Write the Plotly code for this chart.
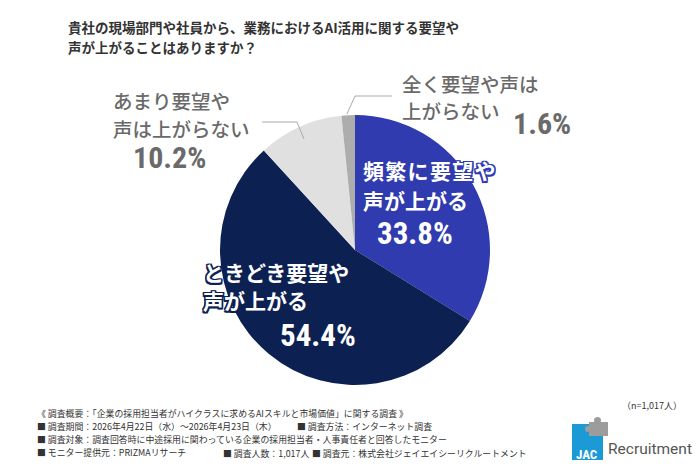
import plotly.graph_objects as go

# ---- data ------------------------------------------------------------------
answers = ["頻繁に要望や声が上がる", "ときどき要望や声が上がる",
           "あまり要望や声は上がらない", "全く要望や声は上がらない"]
shares = [33.8, 54.4, 10.2, 1.6]
slice_colors = ["#2F3BAE", "#0C2152", "#E0E0E0", "#ADADAD"]
label_lines = [["頻繁に要望や", "声が上がる"],
               ["ときどき要望や", "声が上がる"],
               ["あまり要望や", "声は上がらない"],
               ["全く要望や声は", "上がらない"]]

TITLE_LINES = ["貴社の現場部門や社員から、業務におけるAI活用に関する要望や",
               "声が上がることはありますか？"]
NOTE_LINES = [
    "《 調査概要：「企業の採用担当者がハイクラスに求めるAIスキルと市場価値」に関する調査 》",
    "■ 調査期間：2026年4月22日（水）～2026年4月23日（木）",
    "■ 調査対象：調査回答時に中途採用に関わっている企業の採用担当者・人事責任者と回答したモニター",
    "■ モニター提供元：PRIZMAリサーチ",
]
NOTE_EXTRA = [("■ 調査方法：インターネット調査", 295, 426),
              ("■ 調査人数：1,017人", 221, 453),
              ("■ 調査元：株式会社ジェイエイシーリクルートメント", 310, 453)]
N_TEXT = "（n=1,017人）"

W, H = 700, 467
JP = "Noto Sans CJK JP"
NUM = "Roboto Condensed, Liberation Sans Narrow, Roboto, Noto Sans CJK JP"
GREY_TXT = "#6A6A6A"
DARK_TXT = "#333333"


def px(x, y):
    return x / W, 1 - y / H


def outline(c, w=1.5):
    offs = [(-w, -w), (w, -w), (-w, w), (w, w), (0, w), (0, -w), (w, 0), (-w, 0)]
    return ", ".join(f"{a}px {b}px 0 {c}" for a, b in offs)


fig = go.Figure(go.Pie(
    labels=answers, values=shares, sort=False, direction="clockwise",
    rotation=0, marker=dict(colors=slice_colors, line=dict(width=0)),
    textinfo="none", hoverinfo="label+percent", showlegend=False,
    domain=dict(x=[220 / W, 490 / W], y=[1 - 385 / H, 1 - 115 / H]),
))

ann = []


def text(s, x, y, size, color, anchor="left", font=JP, weight=700, shadow="none"):
    ax, ay = px(x, y)
    ann.append(dict(text=s, x=ax, y=ay, xref="paper", yref="paper",
                    xanchor=anchor, yanchor="middle", showarrow=False,
                    font=dict(family=font, size=size, color=color,
                              weight=weight, shadow=shadow)))


# title
for i, line in enumerate(TITLE_LINES):
    text(line, 66, 27 + 20 * i, 13.5, DARK_TXT)

# slice labels: (left x, first line y, line gap, size, colour, outline)
label_pos = [(361, 170, 30, 21, "white", slice_colors[0]),
             (201, 272, 28, 21, "white", slice_colors[1]),
             (111, 100, 28, 19.5, GREY_TXT, None),
             (400, 83, 27, 19.5, GREY_TXT, None)]
pct_pos = [(415, 233, 31), (318, 335, 31), (169, 157, 30), (542, 123, 30)]
for k, (lines, (x, y, gap, size, col, edge), (pxx, pyy, psize), v) in enumerate(zip(
        label_lines, label_pos, pct_pos, shares)):
    sh = outline(edge) if edge else "none"
    w = 700 if col == "white" else 500
    for j, line in enumerate(lines):
        if k == 0 and j == 0:
            line = "\u200a".join(line)   # the reference letter-spaces this line
        text(line, x, y + gap * j, size, col, weight=w, shadow=sh)
    text(f"{v}%", pxx, pyy, psize, col, "center", NUM, 700, sh)

# survey notes
for i, line in enumerate(NOTE_LINES):
    text(line, 35, 413 + 13.3 * i, 8.9, DARK_TXT, weight=400)
for s, x, y in NOTE_EXTRA:
    text(s, x, y, 8.9, DARK_TXT, weight=400)
text(N_TEXT, 652, 405, 9, DARK_TXT, "center", weight=400)


def path(points):
    pts = [px(x, y) for x, y in points]
    return "M " + " L ".join(f"{x},{y}" for x, y in pts)


def rect(x0, y0, x1, y1, color, kind="rect"):
    a, b = px(x0, y1)
    c, d = px(x1, y0)
    return dict(type=kind, xref="paper", yref="paper", x0=a, y0=b, x1=c, y1=d,
                fillcolor=color, line=dict(width=0))


shapes = [
    dict(type="path", xref="paper", yref="paper",
         path=path([(262, 122), (297, 122), (304, 139)]),
         line=dict(color="#AAAAAA", width=1)),
    dict(type="path", xref="paper", yref="paper",
         path=path([(392, 96), (355, 96), (347, 114)]),
         line=dict(color="#AAAAAA", width=1)),
    # logo mark: blue tile with a grey puzzle piece
    rect(572, 424, 603, 460, "#1B9AD6"),
    rect(589, 422, 608, 436, "#9C9C9C"),
    rect(594, 417, 601, 424, "#9C9C9C", "circle"),
    rect(585, 426, 591, 432, "#9C9C9C", "circle"),
]

# logo wordmark
text("JAC", 587, 454, 13, "white", "center", NUM)
text("Recruitment", 606, 449, 15.5, "#555555", "left", "Roboto", 400)

fig.update_layout(
    width=W, height=H, margin=dict(l=0, r=0, t=0, b=0),
    paper_bgcolor="white", plot_bgcolor="white",
    annotations=ann, shapes=shapes,
)

# the page's default 8px body margin would shift the whole picture
fig.write_html("out.html", config={"displayModeBar": False},
               post_script="document.body.style.margin='0';")
